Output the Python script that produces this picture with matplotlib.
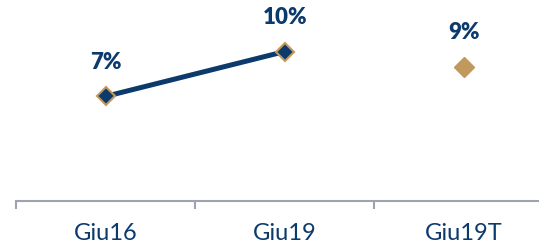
import matplotlib
matplotlib.use("Agg")
import matplotlib.pyplot as plt

categories = ["Giu16", "Giu19", "Giu19T"]
line_values = [7, 10]
target_value = 9
labels = ["7%", "10%", "9%"]

NAVY = "#0d3a6c"
GOLD = "#c1995c"
AXIS_GRAY = "#9fa3b1"

fig = plt.figure(figsize=(5.39, 2.43), dpi=100)
ax = fig.add_axes([16 / 539, 42 / 243, 1 - 16 / 539, 1 - 42 / 243])

x = list(range(len(categories)))
ax.plot(x[:2], line_values, color=NAVY, lw=3.6, marker="D", ms=9.5,
        mfc=NAVY, mec=GOLD, mew=1.5, zorder=3)
ax.plot([x[2]], [target_value], ls="none", marker="D", ms=10.5,
        mfc=GOLD, mec=GOLD, zorder=3)

all_vals = line_values + [target_value]
for xi, v, lab in zip(x, all_vals, labels):
    ax.annotate(lab, (xi, v), xytext=(0, 17), textcoords="offset points",
                ha="center", va="bottom", fontsize=16, fontweight="heavy",
                color=NAVY, family="Lato")

ax.set_ylim(0, 13.45)
ax.set_xlim(-0.5, 2.42)
ax.set_xticks(x)
ax.set_xticklabels(categories, fontsize=17, color=NAVY, family="Lato")
ax.set_xticks([-0.5, 0.5, 1.5], minor=True)
ax.tick_params(axis="x", which="major", length=0, pad=16)
ax.tick_params(axis="x", which="minor", length=5.5, width=1.5, color=AXIS_GRAY)
ax.set_yticks([])
for side in ["top", "right", "left"]:
    ax.spines[side].set_visible(False)
ax.spines["bottom"].set_color(AXIS_GRAY)
ax.spines["bottom"].set_linewidth(1.5)

fig.savefig("out.png", dpi=100)
